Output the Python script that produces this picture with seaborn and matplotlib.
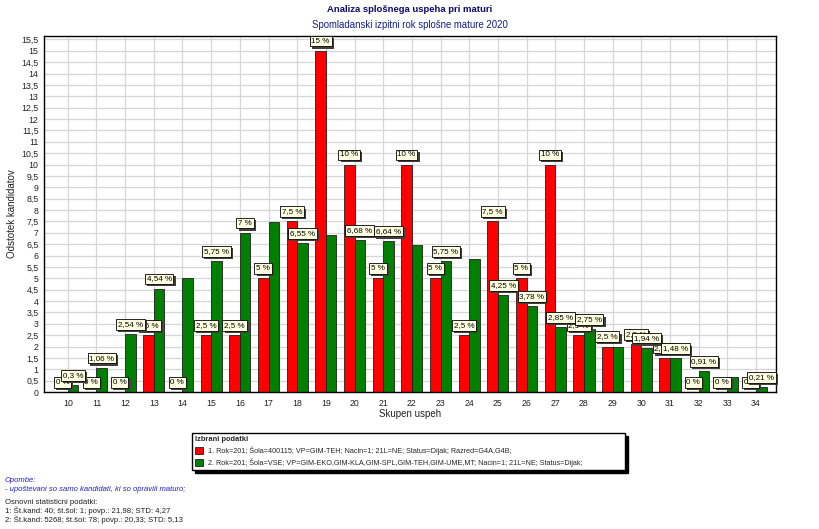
import matplotlib
matplotlib.use("Agg")
import matplotlib.pyplot as plt
import seaborn as sns
import pandas as pd
from matplotlib.ticker import MultipleLocator, FuncFormatter
from matplotlib import font_manager

# ---------------- data ----------------
categories = ["10", "11", "12", "13", "14", "15", "16", "17", "18", "19", "20", "21", "22",
              "23", "24", "25", "26", "27", "28", "29", "30", "31", "32", "33", "34"]

red_values = [0, 0, 0, 2.5, 0, 2.5, 2.5, 5, 7.5, 15, 10, 5, 10, 5, 2.5, 7.5, 5, 10,
              2.5, 2.0, 2.1, 1.5, 0, 0, 0]
green_values = [0.3, 1.06, 2.54, 4.54, 5.02, 5.75, 7.0, 7.47, 6.55, 6.92, 6.68, 6.64, 6.45,
                5.75, 5.86, 4.25, 3.78, 2.85, 2.75, 2.0, 1.94, 1.48, 0.91, 0.66, 0.21]

red_labels = ["0 %", "0 %", "0 %", "2,5 %", "0 %", "2,5 %", "2,5 %", "5 %", "7,5 %", "15 %",
              "10 %", "5 %", "10 %", "5 %", "2,5 %", "7,5 %", "5 %", "10 %", "2,5 %", "2,5 %",
              "2,5 %", "2,5 %", "0 %", "0 %", "0 %"]
green_labels = ["0,3 %", "1,06 %", "2,54 %", "4,54 %", "", "5,75 %", "7 %", "", "6,55 %", "",
                "6,68 %", "6,64 %", "", "5,75 %", "", "4,25 %", "3,78 %", "2,85 %", "2,75 %", "",
                "1,94 %", "1,48 %", "0,91 %", "", "0,21 %"]

series_names = [
    "1. Rok=201; Šola=400115; VP=GIM-TEH; Nacin=1; 21L=NE; Status=Dijak; Razred=G4A,G4B;",
    "2. Rok=201; Šola=VSE; VP=GIM-EKO,GIM-KLA,GIM-SPL,GIM-TEH,GIM-UME,MT; Nacin=1; 21L=NE; Status=Dijak;",
]
series_colors = ["#ff0000", "#008000"]

title = "Analiza splošnega uspeha pri maturi"
subtitle = "Spomladanski izpitni rok splošne mature 2020"
notes_blue = ["Opombe:", "- upoštevani so samo kandidati, ki so opravili maturo;"]
notes_black = ["Osnovni statisticni podatki:",
               "1: Št.kand: 40; št.šol: 1; povp.: 21,98; STD: 4,27",
               "2: Št.kand: 5268; št.šol: 78; povp.: 20,33; STD: 5,13"]

# ---------------- style ----------------
sns.set_style("white")
plt.rcParams["font.family"] = ["Liberation Sans", "DejaVu Sans"]

installed = {f.name for f in font_manager.fontManager.ttflist}
narrow = ["Liberation Sans Narrow", "Liberation Sans", "DejaVu Sans"] \
    if "Liberation Sans Narrow" in installed else ["Liberation Sans", "DejaVu Sans"]
title_size = 8 if "Liberation Sans Narrow" in installed else 6.8
sub_size = 8.3 if "Liberation Sans Narrow" in installed else 6.9

W, H = 820, 529
fig = plt.figure(figsize=(W / 100, H / 100), dpi=100)
ax = fig.add_axes([44 / W, 1 - 392 / H, (776 - 44) / W, (392 - 36) / H])

df = pd.DataFrame({
    "uspeh": categories * 2,
    "odstotek": red_values + green_values,
    "serija": [series_names[0]] * len(categories) + [series_names[1]] * len(categories),
})

sns.barplot(data=df, x="uspeh", y="odstotek", hue="serija", order=categories,
            hue_order=series_names, palette=series_colors, width=0.74,
            edgecolor="#202020", linewidth=0.6, saturation=1, legend=False, ax=ax)

ax.set_xlim(-0.83, len(categories) - 0.3)
ax.set_ylim(0, 15.65)
ax.yaxis.set_major_locator(MultipleLocator(0.5))
ax.yaxis.set_major_formatter(FuncFormatter(lambda v, p: f"{v:g}".replace(".", ",")))
ax.xaxis.set_minor_locator(MultipleLocator(0.25))
ax.set_axisbelow(True)
ax.grid(True, which="major", color="#d6d6d6", linewidth=0.9)
ax.tick_params(axis="both", which="major", labelsize=6.3, length=3, width=0.6,
               color="#444444", pad=2, labelcolor="#222222")
ax.tick_params(axis="x", which="minor", length=2, width=0.5, color="#777777")
ax.tick_params(axis="y", which="major", pad=1)
for s in ax.spines.values():
    s.set_color("black")
    s.set_linewidth(1.0)
ax.set_xlabel("Skupen uspeh", fontsize=7, labelpad=1, color="#222222")
ax.set_ylabel("Odstotek kandidatov", fontsize=7, labelpad=3, color="#222222")

# ---------------- value labels ----------------
z = 5
for cont, labels in zip(ax.containers, [red_labels, green_labels]):
    for bar, lab in zip(cont, labels):
        if not lab:
            continue
        x = bar.get_x() + bar.get_width() / 2
        y = bar.get_height()
        ax.annotate(lab, (x, y), xytext=(1.6, 2.9), textcoords="offset points",
                    ha="center", va="bottom", fontsize=5.8, color="#404040",
                    bbox=dict(boxstyle="square,pad=0.22", fc="#404040", ec="none"),
                    zorder=z, annotation_clip=False)
        ax.annotate(lab, (x, y), xytext=(0, 4.5), textcoords="offset points",
                    ha="center", va="bottom", fontsize=5.8, color="black",
                    bbox=dict(boxstyle="square,pad=0.22", fc="#ffffe1", ec="black", lw=0.6),
                    zorder=z + 1, annotation_clip=False)
        z += 2

# ---------------- titles ----------------
fig.text(0.5, 1 - 10 / H, title, ha="center", va="center", fontsize=title_size,
         fontweight="bold", color="#0a0a6e", family=narrow)
fig.text(0.5, 1 - 25 / H, subtitle, ha="center", va="center", fontsize=sub_size,
         color="#10208a", family=narrow)

# ---------------- legend ----------------
leg = fig.legend(handles=list(ax.containers), labels=series_names, title="Izbrani podatki",
                 loc="lower left",
                 bbox_to_anchor=(192 / W, 1 - 470 / H, (625 - 192) / W, (470 - 433) / H),
                 mode="expand", ncol=1, fontsize=5.2, title_fontsize=5.4, alignment="left",
                 frameon=True, fancybox=False, edgecolor="black",
                 shadow={"color": "black", "alpha": 1.0},
                 borderpad=0.45, handlelength=1.1, handleheight=1.1, labelspacing=0.45,
                 handletextpad=0.7, borderaxespad=0)
leg.get_title().set_fontweight("bold")
leg.get_frame().set_linewidth(1.0)

# ---------------- notes ----------------
y0 = 481
for i, t in enumerate(notes_blue):
    fig.text(5 / W, 1 - (y0 + i * 8.5) / H, t, ha="left", va="center", fontsize=5.5,
             style="italic", color="#2020c0")
y1 = 502
for i, t in enumerate(notes_black):
    fig.text(5 / W, 1 - (y1 + i * 8.7) / H, t, ha="left", va="center", fontsize=5.6,
             color="#202020")

fig.savefig("out.png", dpi=100)
